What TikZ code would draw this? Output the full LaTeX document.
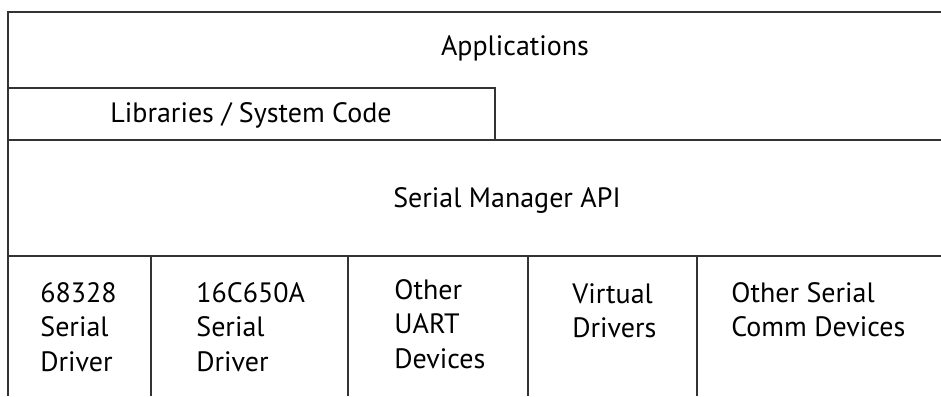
\documentclass[tikz,border=0pt]{standalone}
\usepackage{fontspec}
\setmainfont{PT Sans}
\usepackage{tikz}
\definecolor{linegray}{rgb}{0.2,0.2,0.2}

\begin{document}
\begin{tikzpicture}[x=0.5pt,y=-0.5pt,
  every node/.style={font=\fontsize{14}{17.2}\selectfont, inner sep=0pt},
  drv/.style={anchor=north west, align=left}]
			\useasboundingbox (0,0) rectangle (941,396);
			%Camadas
			\draw[linegray, line width=0.6pt] (941,12) -- (8,12) -- (8,396);
			\draw[linegray, line width=0.6pt] (8,88) rectangle (495,140);
			\draw[linegray, line width=0.6pt] (495,140) -- (941,140);
			\draw[linegray, line width=0.6pt] (8,256) -- (941,256);
			\foreach \x in {151,348,528,697}
				\draw[linegray, line width=0.6pt] (\x,256) -- (\x,396);

			%Textos
			\node (apps) at (515,48) {Applications};
			\node (libs) at (251,115) {Libraries / System Code};
			\node (api) at (507,200) {Serial Manager API};
			\node[drv] (d68328) at (40,282) {68328\\Serial\\Driver};
			\node[drv] (d16c650) at (196,282) {16C650A\\Serial\\Driver};
			\node[drv] (uart) at (394,279) {Other\\UART\\Devices};
			\node[drv] (virt) at (572,283) {Virtual\\Drivers};
			\node[drv] (comm) at (731,282) {Other Serial\\Comm Devices};
		\end{tikzpicture}
\end{document}
